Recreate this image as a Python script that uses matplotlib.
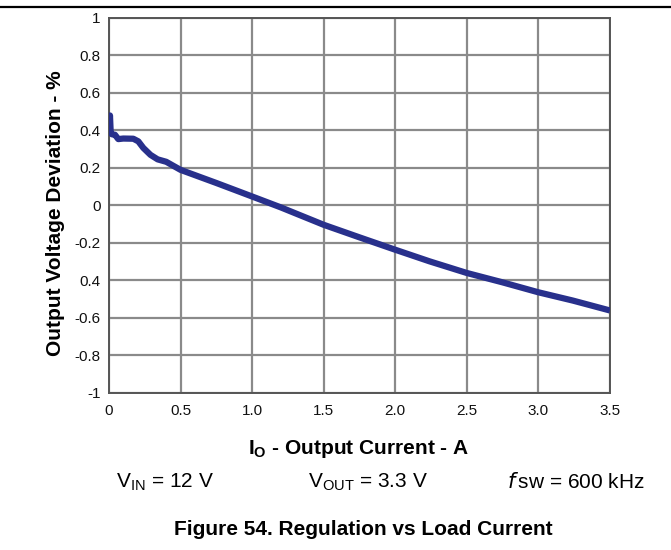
import matplotlib
matplotlib.use('Agg')
import matplotlib.pyplot as plt
from matplotlib.lines import Line2D

####################################################################################################

plt.rcParams['font.family'] = ['Liberation Sans', 'DejaVu Sans']
plt.rcParams['mathtext.default'] = 'regular'

# load current (A) vs output voltage deviation (%)
current = [0.0, 0.007, 0.012, 0.02, 0.042, 0.065, 0.1, 0.17, 0.205, 0.24, 0.29, 0.34, 0.4,
           0.5, 0.75, 1.0, 1.2, 1.5, 1.75, 2.0, 2.24, 2.5, 2.75, 3.0, 3.24, 3.5]
deviation = [0.40, 0.48, 0.39, 0.38, 0.377, 0.354, 0.357, 0.356, 0.342, 0.307, 0.27, 0.246, 0.233,
             0.19, 0.12, 0.048, -0.01, -0.103, -0.17, -0.236, -0.298, -0.36, -0.41, -0.463, -0.507, -0.56]

x_ticks = [0, 0.5, 1.0, 1.5, 2.0, 2.5, 3.0, 3.5]
x_tick_labels = ['0', '0.5', '1.0', '1.5', '2.0', '2.5', '3.0', '3.5']
y_ticks = [1, 0.8, 0.6, 0.4, 0.2, 0, -0.2, -0.4, -0.6, -0.8, -1]
y_tick_labels = ['1', '0.8', '0.6', '0.4', '0.2', '0', '-0.2', '0.4', '-0.6', '-0.8', '-1']

####################################################################################################

figure = plt.figure(figsize=(6.71, 5.5), dpi=100)
axe = figure.add_axes([0.1624, 0.2855, 0.7466, 0.6818])

axe.plot(current, deviation, color='#28308c', linewidth=4.5, solid_capstyle='butt',
         solid_joinstyle='round', zorder=3)

axe.set_xlim(0, 3.5)
axe.set_ylim(-1, 1)
axe.set_xticks(x_ticks)
axe.set_xticklabels(x_tick_labels)
axe.set_yticks(y_ticks)
axe.set_yticklabels(y_tick_labels)
axe.tick_params(length=0, labelsize=11, pad=8, colors='#111111')
axe.tick_params(axis='y', pad=6)
axe.grid(True, color='#8a8a8a', linewidth=1.6)
for spine in axe.spines.values():
    spine.set_color('#555555')
    spine.set_linewidth(1.4)

figure.text(0.082, 0.612, 'Output Voltage Deviation - %', rotation=90, ha='center', va='center',
            fontsize=15, fontweight='bold')

figure.text(0.534, 0.1745, r'I$_{O}$ - Output Current - A', ha='center', va='baseline',
            fontsize=15, fontweight='bold')
figure.text(0.246, 0.1127, r'V$_{IN}$ = 12 V', ha='center', va='baseline', fontsize=15)
figure.text(0.548, 0.1127, r'V$_{OUT}$ = 3.3 V', ha='center', va='baseline', fontsize=15)
figure.text(0.858, 0.1127, r'$\mathit{f}\,$sw = 600 kHz', ha='center', va='baseline', fontsize=15)
figure.text(0.541, 0.027, 'Figure 54. Regulation vs Load Current', ha='center', va='baseline',
            fontsize=15, fontweight='bold')

figure.add_artist(Line2D([0, 1], [0.987, 0.987], transform=figure.transFigure,
                         color='black', linewidth=1.6))

figure.savefig('out.png', dpi=100)
